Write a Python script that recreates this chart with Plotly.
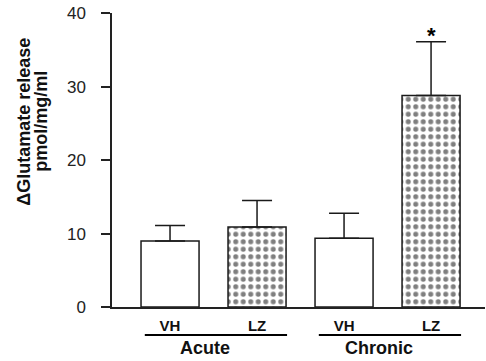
import plotly.graph_objects as go

groups = ["Acute", "Acute", "Chronic", "Chronic"]
treatments = ["VH", "LZ", "VH", "LZ"]
means = [9.0, 10.9, 9.35, 28.8]
sem_up = [2.1, 3.6, 3.4, 7.3]
significant = [False, False, False, True]
yticks = [0, 10, 20, 30, 40]

xpos = list(range(len(means)))
fills = ["white", "pattern", "white", "pattern"]

W, H = 486, 361
L, R, T, B = 112, 1, 13, 54
plot_w = W - L - R

fig = go.Figure()
fig.add_trace(go.Bar(
    x=xpos, y=means,
    width=0.667,
    marker=dict(
        color="white",
        line=dict(color="#1a1a1a", width=1.5),
        pattern=dict(
            shape=["" if f == "white" else "." for f in fills],
            fgcolor="black", bgcolor="white", size=7.5, solidity=0.36,
        ),
    ),
    error_y=dict(type="data", symmetric=False, array=sem_up,
                 arrayminus=[0] * len(means), color="#1a1a1a",
                 thickness=1.5, width=15),
    showlegend=False,
))

annotations = []
for i, s in enumerate(significant):
    if s:
        annotations.append(dict(x=xpos[i], y=means[i] + sem_up[i], text="<b>*</b>",
                                showarrow=False, yanchor="bottom", yshift=-8,
                                font=dict(size=22, color="black", family="Liberation Sans")))

shapes = []
group_names = []
for g in groups:
    if g not in group_names:
        group_names.append(g)
for g in group_names:
    idx = [i for i, gg in enumerate(groups) if gg == g]
    x0 = xpos[idx[0]] - 0.29
    x1 = xpos[idx[-1]] + 0.345
    shapes.append(dict(type="line", xref="x", yref="paper", x0=x0, x1=x1,
                       y0=-0.095, y1=-0.095, line=dict(color="black", width=2)))
    annotations.append(dict(x=(xpos[idx[0]] + xpos[idx[-1]]) / 2 - 0.1, xref="x",
                            y=-0.14, yref="paper", yanchor="middle", xanchor="center",
                            text="<b>%s</b>" % g, showarrow=False,
                            font=dict(size=18, color="#111", family="Liberation Sans")))

annotations.append(dict(x=-(112 - 24) / plot_w, xref="paper", y=0.63, yref="paper",
                        xanchor="center", yanchor="middle",
                        text="<b>ΔGlutamate release</b>", textangle=-90, showarrow=False,
                        font=dict(size=18, color="#111", family="Liberation Sans")))
annotations.append(dict(x=-(112 - 41) / plot_w, xref="paper", y=0.63, yref="paper",
                        xanchor="center", yanchor="middle",
                        text="<b>pmol/mg/ml</b>", textangle=-90, showarrow=False,
                        font=dict(size=18, color="#111", family="Liberation Sans")))

fig.update_layout(
    width=W, height=H,
    margin=dict(l=L, r=R, t=T, b=B),
    paper_bgcolor="white", plot_bgcolor="white",
    font=dict(family="Liberation Sans", color="#222"),
    annotations=annotations,
    shapes=shapes,
    xaxis=dict(range=[-0.667, 3.62], tickvals=xpos,
               ticktext=["<b>%s</b>" % t for t in treatments],
               tickfont=dict(size=15, color="#111"),
               showline=True, linecolor="#222", linewidth=1.5, automargin=False,
               ticks="", showgrid=False, zeroline=False, ticklabelstandoff=4),
    yaxis=dict(range=[0, 40.03], tickvals=yticks,
               tickfont=dict(size=17, color="#222"),
               showline=True, linecolor="#222", linewidth=1.5, automargin=False,
               ticks="outside", ticklen=9, tickwidth=1.5, tickcolor="#222",
               ticklabeloverflow="allow",
               showgrid=False, zeroline=False, ticklabelstandoff=12),
)

fig.write_html("out.html", config={"displayModeBar": False},
               post_script="document.body.style.margin='0';")
